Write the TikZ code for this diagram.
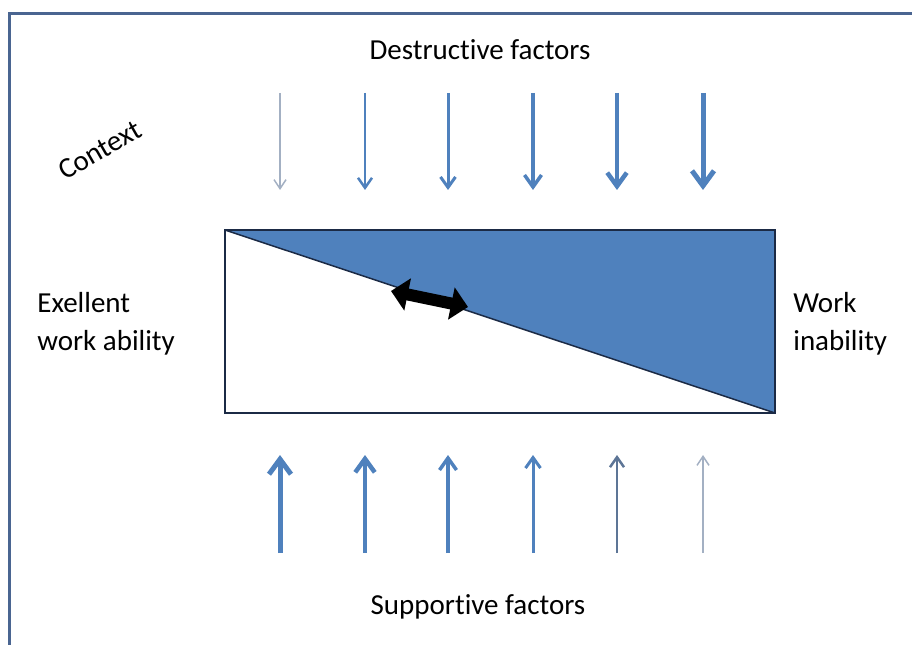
\documentclass[tikz,border=0pt]{standalone}
\usepackage{fontspec}
\setmainfont{Carlito}[Ligatures=NoCommon]
\usetikzlibrary{arrows.meta}

\definecolor{barblue}{HTML}{4F81BD}
\definecolor{frameblue}{HTML}{4A6591}
\definecolor{boxedge}{HTML}{1B2A45}
\definecolor{fadegray}{HTML}{A3B0C3}
\definecolor{slateblue}{HTML}{5D7596}

\begin{document}
\begin{tikzpicture}[x=0.2mm,y=-0.2mm,
    every node/.style={inner sep=0pt, font=\fontsize{16.5}{21.6}\selectfont}]
    \useasboundingbox (0,0) rectangle (912,645);
    % page frame
    \draw[frameblue, line width=0.6mm] (9,645) -- (9,14) -- (912,14);
    % the bar, split along its diagonal
    \fill[barblue] (225,230) -- (775,230) -- (775,413) -- cycle;
    \draw[boxedge, line width=0.45mm] (225,230) rectangle (775,413);
    \draw[boxedge, line width=0.3mm] (225,230) -- (775,413);
    \draw[black, line width=2.4mm,
        {Triangle[width=6.4mm,length=3.4mm]}-{Triangle[width=6.4mm,length=3.4mm]}]
        (391,291) -- (468,307);
    % destructive factors pushing down
    \foreach \x/\w/\hw/\hl/\c in {280/0.3/2.4/1.8/fadegray, 365/0.5/2.8/2.0/barblue,
        448/0.6/3.0/2.1/barblue, 533/0.7/3.4/2.4/barblue,
        617/0.9/3.9/2.7/barblue, 703/1.0/4.4/3.0/barblue}
        \draw[\c, line width=\w mm, -{Straight Barb[width=\hw mm,length=\hl mm]}]
            (\x,93) -- (\x,190);
    % supportive factors pushing up
    \foreach \x/\w/\hw/\hl/\c in {280/1.0/4.4/3.0/barblue, 365/0.9/3.9/2.7/barblue,
        448/0.7/3.4/2.4/barblue, 533/0.6/3.0/2.1/barblue,
        617/0.5/2.8/2.0/slateblue, 703/0.3/2.4/1.8/fadegray}
        \draw[\c, line width=\w mm, -{Straight Barb[width=\hw mm,length=\hl mm]}]
            (\x,553) -- (\x,455);
    % labels
    \node (destr) at (480,50) {Destructive factors};
    \node (supp) at (478,607) {Supportive factors};
    \node[rotate=30] (context) at (100,150) {Context};
    \node[anchor=west, align=left] (good) at (37,324) {Exellent\\work ability};
    \node[anchor=west, align=left] (bad) at (793,324) {Work\\inability};
\end{tikzpicture}
\end{document}
